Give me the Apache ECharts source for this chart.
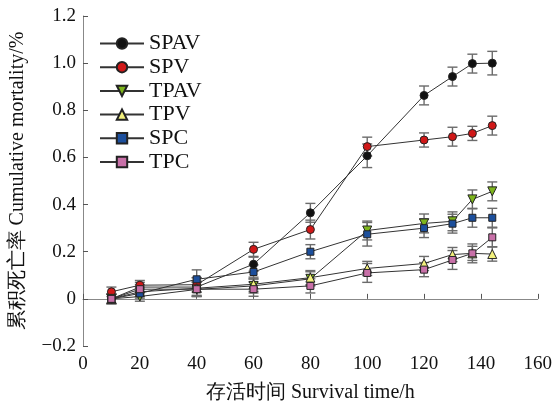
<!DOCTYPE html>
<html><head><meta charset="utf-8">
<script src="https://cdn.jsdelivr.net/npm/echarts@6/dist/echarts.min.js"></script>
<style>html,body{margin:0;padding:0;background:#fff}#c{width:555px;height:408px}</style>
</head><body><div id="c"></div>
<script>
const times = [10, 20, 40, 60, 80, 100, 120, 130, 137, 144];
const seriesNames = ['SPAV', 'SPV', 'TPAV', 'TPV', 'SPC', 'TPC'];
const SPAV = [0.00, 0.05, 0.05, 0.147, 0.365, 0.607, 0.863, 0.943, 0.998, 1.000];
const SPV  = [0.03, 0.058, 0.06, 0.210, 0.294, 0.646, 0.674, 0.688, 0.702, 0.735];
const TPAV = [0.00, 0.01, 0.04, 0.055, 0.085, 0.290, 0.320, 0.329, 0.422, 0.456];
const TPV  = [0.00, 0.03, 0.045, 0.062, 0.090, 0.129, 0.150, 0.188, 0.193, 0.190];
const SPC  = [0.00, 0.023, 0.083, 0.114, 0.200, 0.274, 0.300, 0.319, 0.344, 0.344];
const TPC  = [0.00, 0.041, 0.041, 0.041, 0.055, 0.110, 0.124, 0.165, 0.193, 0.261];
const errSPAV = [0.02, 0.02, 0.04, 0.03, 0.04, 0.05, 0.04, 0.04, 0.04, 0.05];
const errSPV  = [0.02, 0.02, 0.03, 0.03, 0.04, 0.04, 0.03, 0.04, 0.03, 0.04];
const errTPAV = [0.02, 0.02, 0.03, 0.03, 0.03, 0.04, 0.04, 0.04, 0.04, 0.04];
const errTPV  = [0.02, 0.02, 0.03, 0.03, 0.03, 0.03, 0.03, 0.03, 0.03, 0.03];
const errSPC  = [0.02, 0.02, 0.04, 0.03, 0.03, 0.05, 0.04, 0.04, 0.04, 0.04];
const errTPC  = [0.02, 0.02, 0.03, 0.03, 0.03, 0.04, 0.03, 0.04, 0.04, 0.04];
const xTicks = [0, 20, 40, 60, 80, 100, 120, 140, 160];
const yTicks = [-0.2, 0, 0.2, 0.4, 0.6, 0.8, 1.0, 1.2];

const vals = [SPAV, SPV, TPAV, TPV, SPC, TPC];
const errs = [errSPAV, errSPV, errTPAV, errTPV, errSPC, errTPC];
const colors = ['#111111', '#d01818', '#7db51c', '#f2f07c', '#1c4f9c', '#c870a8'];
const symbols = ['circle', 'circle', 'triangle', 'triangle', 'rect', 'rect'];
const rotates = [0, 0, 180, 0, 0, 0];
const sizes = [8, 8, 9, 9, 7, 7];

const font = 'Liberation Serif, Times New Roman, serif';
const series = [];
vals.forEach((v, i) => {
  series.push({
    type: 'custom', silent: true, z: 1,
    data: times.map((t, j) => [t, v[j] - errs[i][j], v[j] + errs[i][j]]),
    renderItem: (params, api) => {
      const lo = api.coord([api.value(0), api.value(1)]);
      const hi = api.coord([api.value(0), api.value(2)]);
      const w = 5;
      const st = { stroke: '#6b6b6b', lineWidth: 1.4 };
      return { type: 'group', children: [
        { type: 'line', shape: { x1: lo[0], y1: lo[1], x2: hi[0], y2: hi[1] }, style: st },
        { type: 'line', shape: { x1: lo[0] - w, y1: lo[1], x2: lo[0] + w, y2: lo[1] }, style: st },
        { type: 'line', shape: { x1: hi[0] - w, y1: hi[1], x2: hi[0] + w, y2: hi[1] }, style: st }
      ]};
    }
  });
});
vals.forEach((v, i) => {
  series.push({
    name: seriesNames[i], type: 'line', z: 3,
    data: times.map((t, j) => [t, v[j]]),
    symbol: symbols[i], symbolSize: sizes[i], symbolRotate: rotates[i],
    showAllSymbol: true,
    lineStyle: { color: '#333', width: 1 },
    itemStyle: { color: colors[i], borderColor: '#222', borderWidth: 1 },
    emphasis: { disabled: true }
  });
});

const chart = echarts.init(document.getElementById('c'));
chart.setOption({
  animation: false,
  grid: { left: 82, right: 14, top: 16, bottom: 61 },
  legend: {
    data: seriesNames, orient: 'vertical', left: 99, top: 32.5, padding: 0,
    itemWidth: 44, itemHeight: 13, itemGap: 1.7,
    textStyle: { fontFamily: font, fontSize: 22, color: '#111' }
  },
  xAxis: {
    type: 'value', min: 0, max: 160, interval: 20,
    name: '存活时间 Survival time/h', nameLocation: 'middle', nameGap: 37,
    nameTextStyle: { fontFamily: font, fontSize: 20, color: '#111' },
    axisLine: { lineStyle: { color: '#888' } },
    axisTick: { inside: true, length: 5, lineStyle: { color: '#555' } },
    axisLabel: { fontFamily: font, fontSize: 19, color: '#111', margin: 9 },
    splitLine: { show: false }
  },
  yAxis: {
    type: 'value', min: -0.2, max: 1.2, interval: 0.2,
    name: '累积死亡率 Cumulative mortality/%', nameLocation: 'middle', nameGap: 55,
    nameTextStyle: { fontFamily: font, fontSize: 20, color: '#111' },
    axisLine: { show: true, lineStyle: { color: '#888' } },
    axisTick: { show: true, inside: true, length: 5, lineStyle: { color: '#555' } },
    axisLabel: { fontFamily: font, fontSize: 19, color: '#111', margin: 7,
      formatter: v => { const r = Math.round(v * 10) / 10; return r === 0 ? '0' : (r < 0 ? '\u2212' + Math.abs(r).toFixed(1) : r.toFixed(1)); } },
    splitLine: { show: false }
  },
  series: series
});
</script></body></html>
